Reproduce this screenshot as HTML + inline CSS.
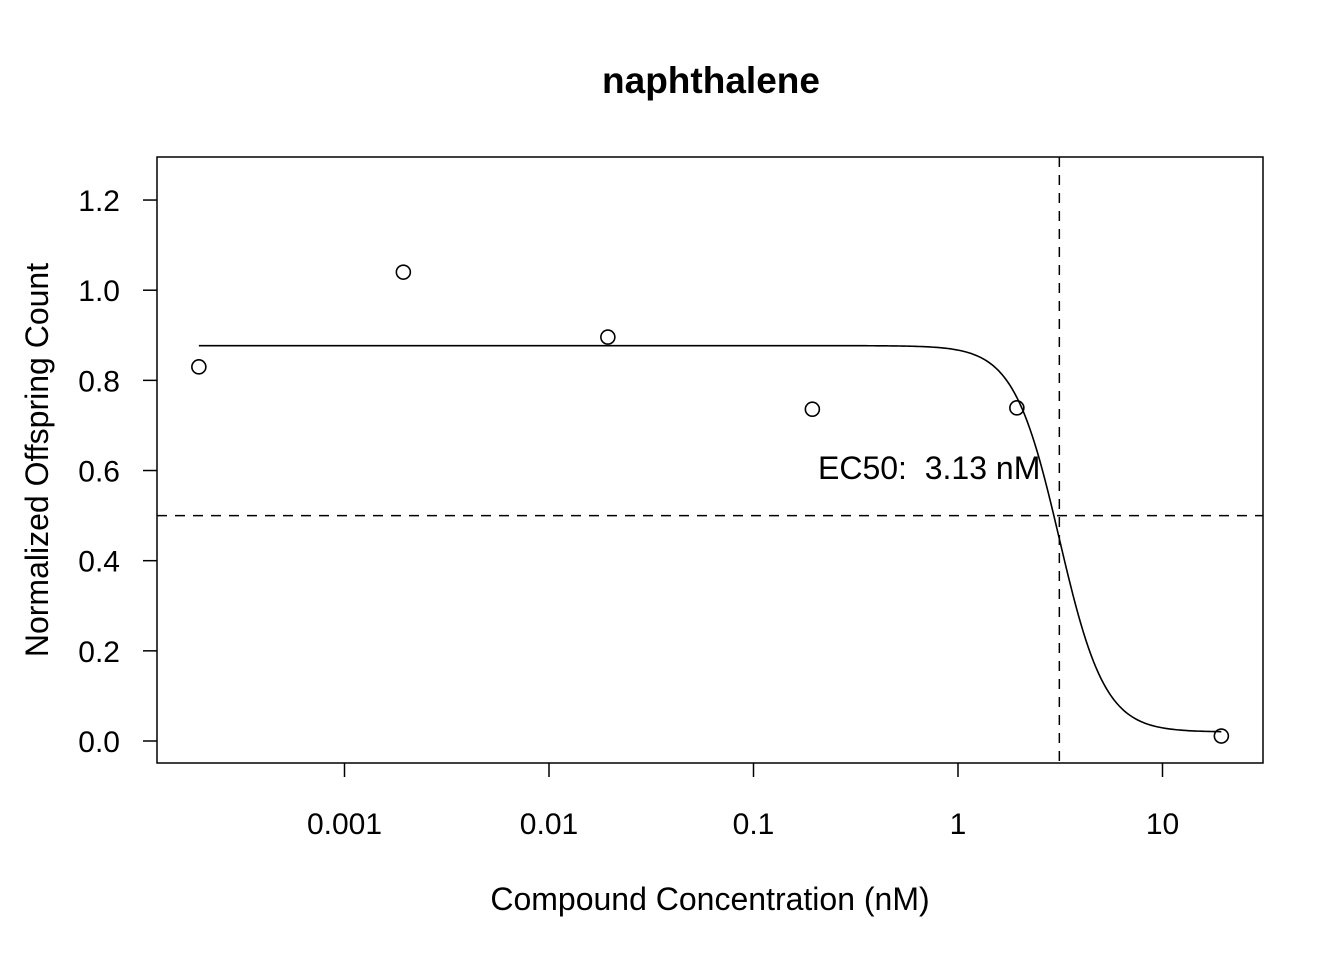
<!DOCTYPE html>
<html><head><meta charset="utf-8"><style>
body{margin:0;background:#fff;}
svg text{font-family:"Liberation Sans",Arial,sans-serif;fill:#000;}
</style></head><body>
<svg id="chart" width="1344" height="960" viewBox="0 0 1344 960" xmlns="http://www.w3.org/2000/svg">
<rect width="1344" height="960" fill="#fff"/>
<text x="711" y="93" font-size="37" font-weight="bold" text-anchor="middle">naphthalene</text>
<rect x="157" y="157" width="1106" height="606" fill="none" stroke="#000" stroke-width="1.5"/>
<text x="710" y="910" font-size="32" text-anchor="middle">Compound Concentration (nM)</text>
<text transform="translate(48,460) rotate(-90)" font-size="32" text-anchor="middle">Normalized Offspring Count</text>
<g id="xaxis"></g>
<g id="yaxis"></g>
<g id="marks"></g>
</svg>
<script>
const xTicks = [0.001, 0.01, 0.1, 1, 10];
const xTickLabels = ["0.001", "0.01", "0.1", "1", "10"];
const yTicks = [0, 0.2, 0.4, 0.6, 0.8, 1.0, 1.2];
const yTickLabels = ["0.0", "0.2", "0.4", "0.6", "0.8", "1.0", "1.2"];
const concentrations = [0.000194, 0.00194, 0.0194, 0.194, 1.94, 19.4];
const responses = [0.830, 1.040, 0.896, 0.736, 0.739, 0.011];
const fitTop = [0.877];
const fitBottom = [0.02];
const fitSlope = [3.9];
const ec50 = [3.13];
const threshold = [0.5];

const NS = "http://www.w3.org/2000/svg";
const X = v => 958 + 204.5 * Math.log10(v);
const Y = v => 741 - 450.8 * v;
function mk(tag, attrs, parent){
  const e = document.createElementNS(NS, tag);
  for (const k in attrs) e.setAttribute(k, attrs[k]);
  parent.appendChild(e); return e;
}
const xa = document.getElementById('xaxis'), ya = document.getElementById('yaxis'), mg = document.getElementById('marks');
xTicks.forEach((t, i) => {
  const l = mk('line', {x1: X(t), x2: X(t), y1: 763, y2: 777, stroke: '#000', 'stroke-width': 1.5}, xa);
  
  
  const tx = mk('text', {x: X(t), y: 834, 'font-size': 30, 'text-anchor': 'middle'}, xa);
  tx.textContent = xTickLabels[i];
  
  
});
yTicks.forEach((t, i) => {
  const l = mk('line', {x1: 143, x2: 157, y1: Y(t), y2: Y(t), stroke: '#000', 'stroke-width': 1.5}, ya);
  
  
  const tx = mk('text', {x: 120, y: Y(t) + 11, 'font-size': 30, 'text-anchor': 'end'}, ya);
  tx.textContent = yTickLabels[i];
  
  
});
const lo = Math.log10(concentrations[0]), hi = Math.log10(concentrations[concentrations.length - 1]);
let d = '';
for (let k = 0; k <= 400; k++) {
  const lx = lo + (hi - lo) * k / 400, x = Math.pow(10, lx);
  const y = fitBottom[0] + (fitTop[0] - fitBottom[0]) / (1 + Math.pow(x / ec50[0], fitSlope[0]));
  d += (k ? 'L' : 'M') + X(x).toFixed(2) + ',' + Y(y).toFixed(2);
}
const curve = mk('path', {d: d, fill: 'none', stroke: '#000', 'stroke-width': 1.6}, mg);


const hl = mk('line', {x1: 157, x2: 1263, y1: Y(threshold[0]), y2: Y(threshold[0]), stroke: '#000', 'stroke-width': 1.5, 'stroke-dasharray': '10,8'}, mg);


const vl = mk('line', {x1: X(ec50[0]), x2: X(ec50[0]), y1: 157, y2: 763, stroke: '#000', 'stroke-width': 1.5, 'stroke-dasharray': '10,8'}, mg);


concentrations.forEach((c, i) => {
  const p = mk('circle', {cx: X(c), cy: Y(responses[i]), r: 7, fill: 'none', stroke: '#000', 'stroke-width': 1.6}, mg);
  
  
});
const lab = mk('text', {x: 818, y: 479, 'font-size': 32}, mg);
lab.textContent = 'EC50:\u00a0 ' + ec50[0].toFixed(2) + ' nM';


</script>
</body></html>
